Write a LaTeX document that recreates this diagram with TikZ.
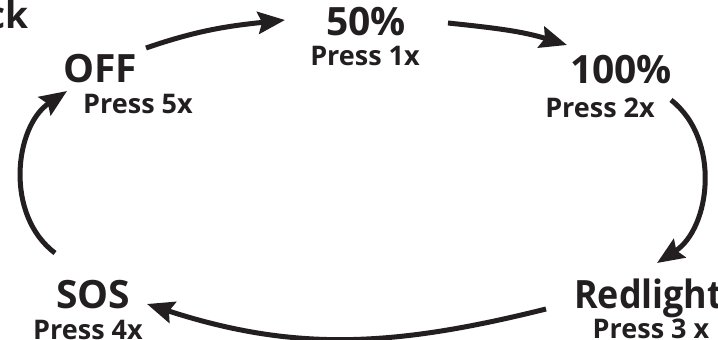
\documentclass[tikz,border=0pt]{standalone}
\usepackage{graphicx}
\usepackage{fontspec}
\setmainfont{Open Sans}
\usetikzlibrary{arrows.meta}
\definecolor{ink}{HTML}{231F20}
\tikzset{
  big/.style={font=\bfseries\fontsize{39}{39}\selectfont, text=ink, inner sep=0pt, anchor=base},
  small/.style={font=\bfseries\fontsize{27}{27}\selectfont, text=ink, inner sep=0pt, anchor=base},
  cyc/.style={draw=ink, line width=5pt, -{Stealth[length=27pt,width=22pt,inset=4pt]}}
}
\begin{document}
\begin{tikzpicture}[x=1pt,y=1pt]
\useasboundingbox (0,0) rectangle (718,-340);
\clip (0,0) rectangle (718,-340);
% labels
\node[font=\bfseries\fontsize{37}{37}\selectfont, text=ink, inner sep=0pt, anchor=base east] (title) at (29,-28) {ck};
\node[big] (off) at (100,-82) {OFF};
\node[small] (offp) at (138,-113) {Press 5x};
\node[big] (p50) at (366,-35) {50\%};
\node[small] (p50p) at (365,-65) {Press 1x};
\node[big] (p100) at (621,-83) {100\%};
\node[small] (p100p) at (600,-117) {Press 2x};
\node[big, anchor=base west] (red) at (574,-308) {\scalebox{0.92}[1]{Redlight}};
\node[small] (redp) at (651,-338) {Press 3 x};
\node[big] (sos) at (93,-308) {SOS};
\node[small] (sosp) at (88,-339) {Press 4x};
% connector end points
\coordinate (a1s) at (146,-48);
\coordinate (a1e) at (285,-20);
\coordinate (a2s) at (448,-23);
\coordinate (a2e) at (567,-45);
\coordinate (a3s) at (671,-100);
\coordinate (a3e) at (657,-263);
\coordinate (a4s) at (546,-309);
\coordinate (a4e) at (147,-304);
\coordinate (a5s) at (55,-253);
\coordinate (a5e) at (67,-91);
% connectors
\draw[cyc] (a1s) to[out=19,in=186] (a1e);
\draw[cyc] (a2s) to[out=-6,in=163] (a2e);
\draw[cyc] (a3s) to[out=-38,in=33] (a3e);
\draw[cyc] (a4s) to[out=194,in=-18] (a4e);
\draw[cyc] (a5s) to[out=143,in=214] (a5e);
\end{tikzpicture}
\end{document}
